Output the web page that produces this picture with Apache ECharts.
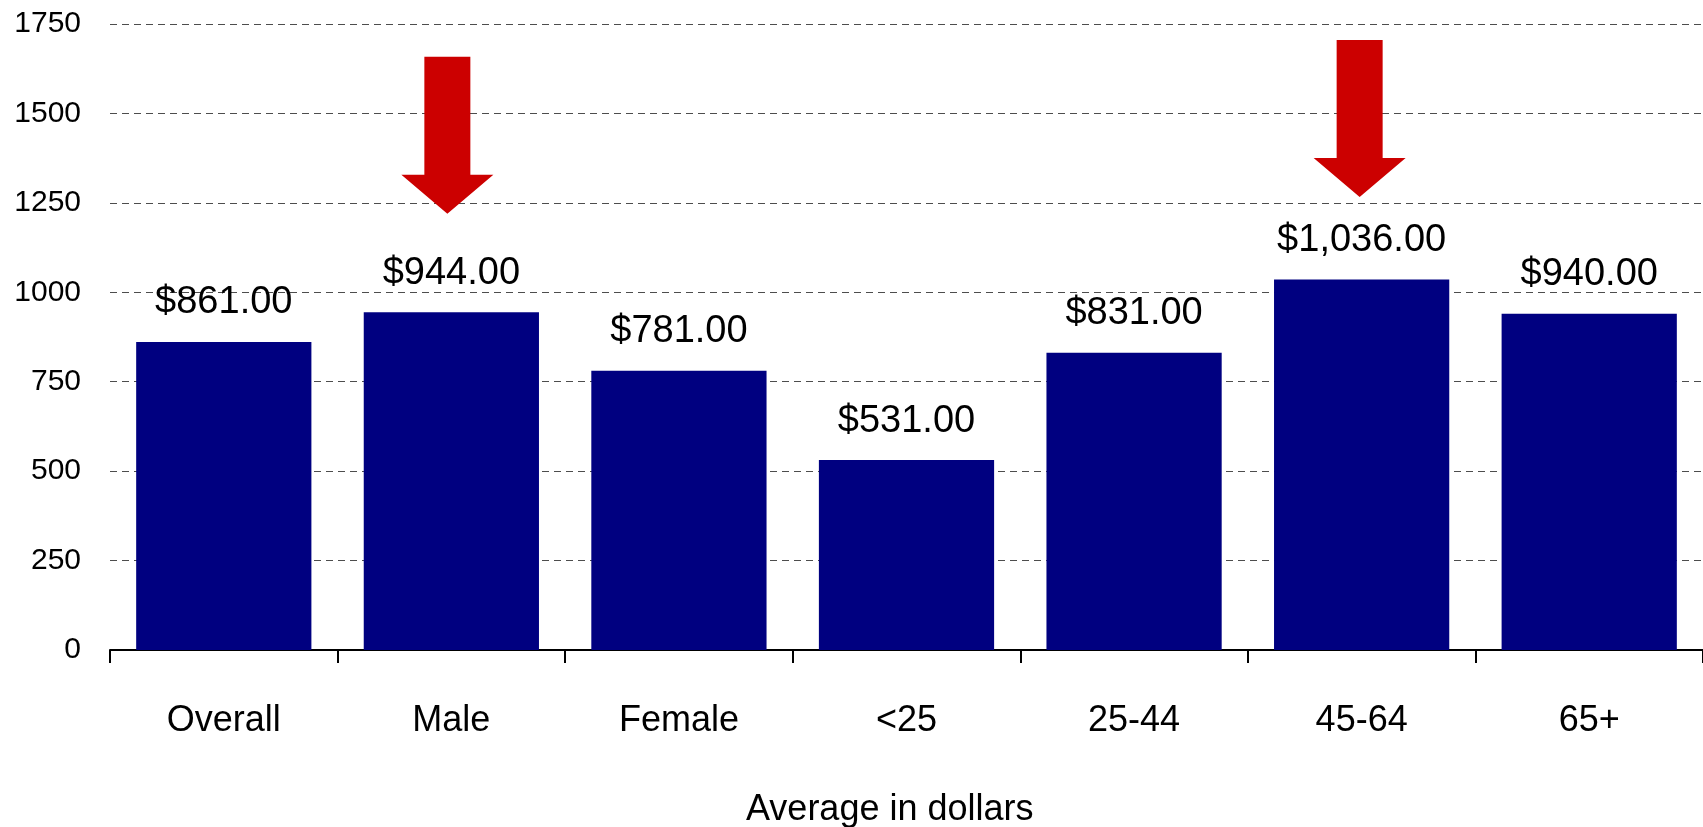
<!DOCTYPE html>
<html>
<head>
<meta charset="utf-8">
<script src="https://cdn.jsdelivr.net/npm/echarts@6/dist/echarts.min.js"></script>
<style>
  html, body { margin: 0; padding: 0; background: #fff; }
  #chart { width: 1703px; height: 827px; }
</style>
</head>
<body>
<div id="chart"></div>
<script>
// categories and averages (dollars)
var categories = ['Overall', 'Male', 'Female', '<25', '25-44', '45-64', '65+'];
var averages = [861, 944, 781, 531, 831, 1036, 940];
var yTicks = [0, 250, 500, 750, 1000, 1250, 1500, 1750];

// red arrows pointing at two groups (category, centre value on the y scale)
var arrowCats = ['Male', '45-64'];
var arrowMid = [1439, 1486];

var font = 'Liberation Sans, Arial, sans-serif';

function money(v) {
    return '$' + v.toLocaleString('en-US', {minimumFractionDigits: 2, maximumFractionDigits: 2});
}

var myChart = echarts.init(document.getElementById('chart'));

var arrowPath = 'path://M23,0 L69,0 L69,118 L92,118 L46,157 L0,118 L23,118 Z';

var option = {
    animation: false,
    title: {
        text: 'Average in dollars',
        left: 741,
        top: 787,
        textStyle: {fontFamily: font, fontSize: 36, fontWeight: 'normal', color: '#000'}
    },
    grid: {left: 110, right: 0, top: 24, bottom: 177},
    xAxis: {
        type: 'category',
        data: categories,
        axisLine: {lineStyle: {color: '#000', width: 2}},
        axisTick: {show: true, length: 13, lineStyle: {color: '#000', width: 2}},
        axisLabel: {margin: 53, fontFamily: font, fontSize: 36, color: '#000'}
    },
    yAxis: {
        type: 'value',
        min: yTicks[0],
        max: yTicks[yTicks.length - 1],
        interval: 250,
        axisLine: {show: false},
        axisTick: {show: false},
        axisLabel: {
            margin: 29, fontFamily: font, fontSize: 30, color: '#000',
            formatter: function (v) { return String(v); }
        },
        splitLine: {lineStyle: {color: '#4d4d4d', type: [7, 5], width: 1}}
    },
    series: [{
        type: 'bar',
        data: averages,
        barCategoryGap: '23%',
        itemStyle: {color: '#000080'},
        label: {
            show: true,
            position: 'top',
            distance: 20,
            fontFamily: font,
            fontSize: 38,
            color: '#000',
            formatter: function (p) { return money(p.value); }
        },
        markPoint: {
            symbol: arrowPath,
            symbolSize: [92, 157],
            symbolKeepAspect: false,
            itemStyle: {color: '#CC0000'},
            label: {show: false},
            data: arrowCats.map(function (c, i) {
                return {coord: [c, arrowMid[i]], symbolOffset: [i === 0 ? -4 : -2, 0]};
            })
        }
    }]
};

myChart.setOption(option);
</script>
</body>
</html>
